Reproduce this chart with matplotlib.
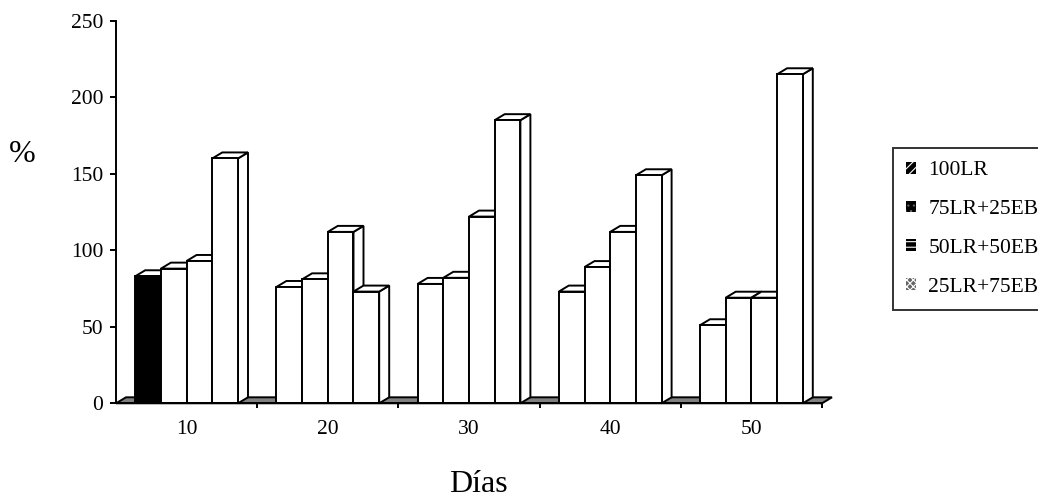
import numpy as np
import matplotlib.pyplot as plt
from matplotlib.patches import Polygon, Patch

# data
dias = ['10', '20', '30', '40', '50']
series = ['100LR', '75LR+25EB', '50LR+50EB', '25LR+75EB']
v_100lr = [83, 76, 78, 73, 51]
v_75lr = [88, 81, 82, 89, 69]
v_50lr = [93, 112, 122, 112, 69]
v_25lr = [160, 73, 185, 149, 215]
values = [v_100lr, v_75lr, v_50lr, v_25lr]

plt.rcParams['font.family'] = ['Liberation Serif', 'DejaVu Serif']
plt.rcParams['hatch.linewidth'] = 0.8

W, H = 1038, 498
fig = plt.figure(figsize=(W / 100, H / 100), dpi=100)
ax_l, ax_r, ax_t, ax_b = 116, 822, 20.7, 403.3
ax = fig.add_axes([ax_l / W, (H - ax_b) / H, (ax_r - ax_l) / W, (ax_b - ax_t) / H])

n = len(dias)
ymax = 250
ax.set_xlim(0, n)
ax.set_ylim(0, ymax)

# 3d depth in data units (about 10px right, 6px up)
ddx = 10 * n / (ax_r - ax_l)
ddy = 6 * ymax / (ax_b - ax_t)
lw = 1.4

# floor strip
floor = Polygon([(0, 0), (n, 0), (n + ddx, ddy), (ddx, ddy)], closed=True,
                facecolor='#808080', edgecolor='black', lw=lw, zorder=1, clip_on=False)
ax.add_patch(floor)

bw = 0.182
nser = len(series)
z = 2
for g in range(n):
    start = g + 0.5 - bw * nser / 2
    for s in range(nser):
        h = values[s][g]
        x0 = start + s * bw
        fc = 'black' if (g == 0 and s == 0) else 'white'
        front = Polygon([(x0, 0), (x0 + bw, 0), (x0 + bw, h), (x0, h)], closed=True,
                        facecolor=fc, edgecolor='black', lw=lw, zorder=z, clip_on=False)
        top = Polygon([(x0, h), (x0 + bw, h), (x0 + bw + ddx, h + ddy), (x0 + ddx, h + ddy)],
                      closed=True, facecolor='white', edgecolor='black', lw=lw, zorder=z,
                      clip_on=False)
        side = Polygon([(x0 + bw, 0), (x0 + bw + ddx, ddy), (x0 + bw + ddx, h + ddy),
                        (x0 + bw, h)], closed=True, facecolor='white', edgecolor='black',
                       lw=lw, zorder=z, clip_on=False)
        for p in (side, top, front):
            ax.add_patch(p)
        z += 1

for sp in ['top', 'right']:
    ax.spines[sp].set_visible(False)
for sp in ['left', 'bottom']:
    ax.spines[sp].set_linewidth(1.4)
    ax.spines[sp].set_zorder(100)

ax.set_yticks(np.arange(0, 251, 50))
ax.tick_params(axis='y', direction='out', length=6 * 0.72, width=1.4, pad=5,
               labelsize=15.5)
ax.set_xticks(np.arange(1, n + 1))
ax.set_xticklabels([])
ax.set_xticks(np.arange(n) + 0.5, minor=True)
ax.set_xticklabels(dias, minor=True)
ax.tick_params(axis='x', which='major', direction='out', length=5 * 0.72, width=1.4)
ax.tick_params(axis='x', which='minor', length=0, pad=12, labelsize=15.5)

fig.text(22 / W, (H - 162) / H, '%', fontsize=23, ha='center', va='baseline')
fig.text(478 / W, 6 / H, 'Días', fontsize=23, ha='center', va='baseline')

handles = [
    Patch(facecolor='black', edgecolor='white', hatch='////', lw=0),
    Patch(facecolor='black', edgecolor='#666666', hatch='...', lw=0),
    Patch(facecolor='black', edgecolor='white', hatch='---', lw=0),
    Patch(facecolor='#666666', edgecolor='white', hatch='xxxxx', lw=0),
]
leg = fig.legend(handles, series, loc='upper left',
                 bbox_to_anchor=(893 / W, 1 - 148 / H), fontsize=15.5,
                 frameon=True, fancybox=False, edgecolor='black',
                 handlelength=0.47, handleheight=0.47, handletextpad=0.55,
                 labelspacing=0.92, borderpad=0.62, borderaxespad=0)
leg.get_frame().set_linewidth(1.4)

fig.savefig('out.png', dpi=100)
